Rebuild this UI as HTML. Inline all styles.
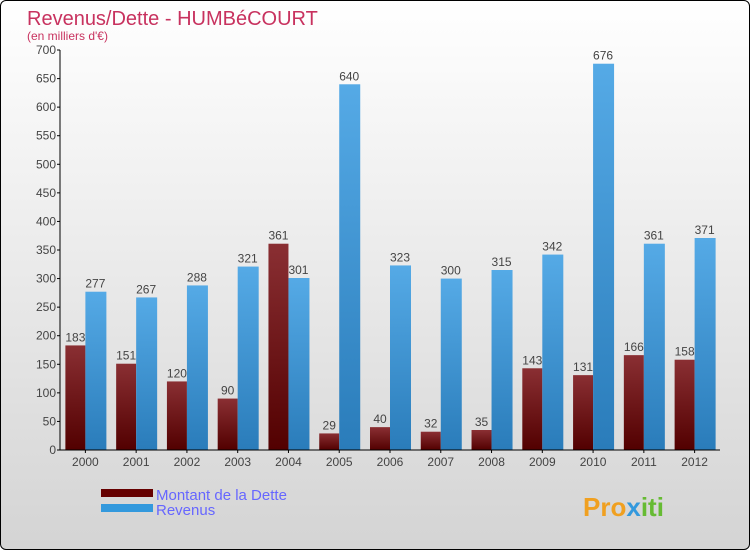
<!DOCTYPE html>
<html><head><meta charset="utf-8"><style>
body{margin:0}
#c{position:relative;width:748px;height:548px;border:1px solid #000;border-radius:6px;overflow:hidden;background:linear-gradient(#ffffff,#d4d4d4);font-family:"Liberation Sans",sans-serif}
</style></head><body>
<div id="c">
<svg width="748" height="548" id="s">
<defs>
<linearGradient id="gd" x1="0" y1="0" x2="0" y2="1"><stop offset="0" stop-color="#8a2f33"/><stop offset="1" stop-color="#520000"/></linearGradient>
<linearGradient id="gr" x1="0" y1="0" x2="0" y2="1"><stop offset="0" stop-color="#55aae6"/><stop offset="1" stop-color="#2a7cba"/></linearGradient>
</defs>
<text x="26" y="24" font-size="20" fill="#c8325f">Revenus/Dette - HUMBéCOURT</text>
<text x="26" y="39" font-size="12" fill="#c8325f">(en milliers d'€)</text>
<g id="g"></g>
<rect x="100" y="488" width="52" height="8" fill="#660000"/>
<rect x="100" y="503" width="52" height="8" fill="#3399dd"/>
<text x="155" y="499" font-size="15" fill="#6666ff">Montant de la Dette</text>
<text x="155" y="514" font-size="15" fill="#6666ff">Revenus</text>
<text x="582" y="515" font-size="26" font-weight="bold" fill="#f0a020">Pro<tspan fill="#3399dd">x</tspan><tspan fill="#66bb33">iti</tspan></text>
</svg></div>
<script>
const years=["2000","2001","2002","2003","2004","2005","2006","2007","2008","2009","2010","2011","2012"];
const dette=[183,151,120,90,361,29,40,32,35,143,131,166,158];
const revenus=[277,267,288,321,301,640,323,300,315,342,676,361,371];
const yTicks=[0,50,100,150,200,250,300,350,400,450,500,550,600,650,700];
const NS="http://www.w3.org/2000/svg";
const g=document.getElementById('g');
const x0=59,x1=719,y0=449,yTop=49,yMax=700;
const gw=(x1-x0)/years.length;
function y(v){return y0-(v/yMax)*(y0-yTop);}
function xc(i){return x0+gw*(i+0.5);}
function mk(t,a){const e=document.createElementNS(NS,t);for(const k in a)e.setAttribute(k,a[k]);g.appendChild(e);return e;}
yTicks.forEach(v=>{
 const l=mk('line',{x1:x0-3,x2:x0,y1:y(v),y2:y(v),stroke:'#000'});
 
 
 const t=mk('text',{x:x0-4,y:y(v)+4,'font-size':12,fill:'#444','text-anchor':'end'});
 t.textContent=v;
 
 
});
years.forEach((yr,i)=>{
 const c=xc(i);
 const bd=mk('rect',{x:c-20,y:y(dette[i]),width:20,height:y0-y(dette[i]),fill:'url(#gd)'});
 
 
 const br=mk('rect',{x:c,y:y(revenus[i]),width:21,height:y0-y(revenus[i]),fill:'url(#gr)'});
 
 
 const td=mk('text',{x:c-10,y:y(dette[i])-4,'font-size':12,fill:'#444','text-anchor':'middle'});
 td.textContent=dette[i];
 
 
 const tr=mk('text',{x:c+10,y:y(revenus[i])-4,'font-size':12,fill:'#444','text-anchor':'middle'});
 tr.textContent=revenus[i];
 
 
 const tk=mk('line',{x1:c,x2:c,y1:y0,y2:y0+3,stroke:'#000'});
 
 
 const xl=mk('text',{x:c,y:y0+16,'font-size':12,fill:'#444','text-anchor':'middle'});
 xl.textContent=yr;
 
 
});
const ya=mk('line',{x1:x0,x2:x0,y1:yTop,y2:y0,stroke:'#000'});


const xa=mk('line',{x1:x0,x2:x1,y1:y0,y2:y0,stroke:'#000'});


</script>
</body></html>
